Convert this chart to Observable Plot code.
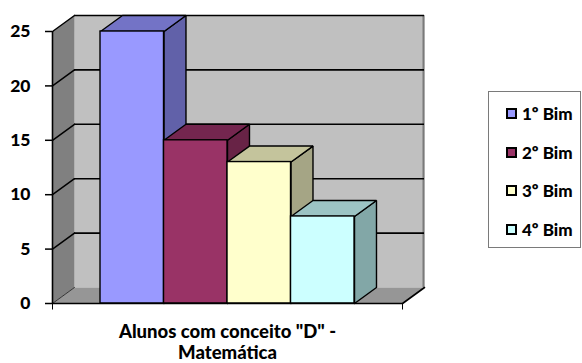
<!DOCTYPE html>
<html>
<head>
<meta charset="utf-8">
<script src="https://cdn.jsdelivr.net/npm/d3@7"></script>
<script src="https://cdn.jsdelivr.net/npm/@observablehq/plot@0.6"></script>
<style>
  html, body { margin: 0; padding: 0; background: #fff; }
  #chart { position: relative; width: 582px; height: 363px; font-family: Lato, "Open Sans", sans-serif; }
  #chart svg { position: absolute; left: 0; top: 0; }
  .legend { position: absolute; left: 488px; top: 91px; width: 93px; height: 157px;
            box-sizing: border-box; border: 1px solid #7a7a7a; background: #fff; }
  .legend .item { position: absolute; left: 17px; height: 20px; display: flex; align-items: center;
                  font-weight: 900; font-size: 17px; color: #000; white-space: nowrap; }
  .legend .sw { width: 7px; height: 7px; border: 2px solid #000; margin-right: 5px; }
</style>
</head>
<body>
<div id="chart"></div>
<script>
// Students with grade "D" in Mathematics, by bimester
const series = ["1º Bim", "2º Bim", "3º Bim", "4º Bim"];
const values = [25, 15, 13, 8];
const frontColors = ["#9999ff", "#993366", "#ffffcc", "#ccffff"];
const topColors = ["#7373c6", "#74264f", "#c4c49c", "#9cc4c4"];
const sideColors = ["#6161a9", "#682346", "#a5a585", "#82a7a7"];
const yTicks = [0, 5, 10, 15, 20, 25];
const categoryLabel = 'Alunos com conceito "D" -\nMatemática';

// 3D box geometry in data units: bars occupy slots [i, i+1]
const pad = 0.756;                 // gap between floor edge and the bars
const xMin = -pad, xMax = series.length + pad;
const yMax = d3.max(yTicks);
const DX = 0.346, DY = 1.47;       // depth offset of the back plane

const poly = (pts) => [...pts, pts[0]].map(([x, y]) => ({x, y}));
const face = (pts, fill, stroke = "#000", strokeWidth = 1.4) =>
  Plot.line(poly(pts), {x: "x", y: "y", fill, stroke, strokeWidth, strokeLinejoin: "miter"});

const marks = [];

// walls and floor
marks.push(face([[xMin + DX, DY], [xMax + DX, DY], [xMax + DX, yMax + DY], [xMin + DX, yMax + DY]], "#c0c0c0", "none"));
marks.push(face([[xMin, 0], [xMin + DX, DY], [xMin + DX, yMax + DY], [xMin, yMax]], "#808080", "none"));
marks.push(face([[xMin, 0], [xMax, 0], [xMax + DX, DY], [xMin + DX, DY]], "#969696", "none"));
// shaded right edge of the back wall
marks.push(Plot.ruleX([xMax + DX], {y1: DY, y2: yMax + DY, stroke: "#7a7a7a", strokeWidth: 2, dx: -1}));

// gridlines on the back wall and the left wall
const grid = yTicks.filter(t => t > 0);
marks.push(Plot.ruleY(grid, {y: t => t + DY, x1: xMin + DX, x2: xMax + DX, stroke: "#000", strokeWidth: 1.6}));
for (const t of yTicks) {
  marks.push(Plot.line([{x: xMin, y: t}, {x: xMin + DX, y: t + DY}], {x: "x", y: "y", stroke: t ? "#000" : "#333", strokeWidth: t ? 1.5 : 1}));
}

// bars: sides, then tops, then fronts
values.forEach((v, i) => {
  const x1 = i + 1;
  marks.push(face([[x1, 0], [x1 + DX, DY], [x1 + DX, v + DY], [x1, v]], sideColors[i]));
});
values.forEach((v, i) => {
  const x0 = i, x1 = i + 1;
  marks.push(face([[x0, v], [x1, v], [x1 + DX, v + DY], [x0 + DX, v + DY]], topColors[i]));
});
const bars = series.map((s, i) => ({s, i, v: values[i], fill: frontColors[i]}));
marks.push(Plot.rect(bars, {x1: d => d.i, x2: d => d.i + 1, y1: 0, y2: "v", fill: "fill", stroke: "#000", strokeWidth: 1.4}));

// floor front edge, right edge and axis lines
marks.push(Plot.ruleY([0], {x1: xMin, x2: xMax, stroke: "#000", strokeWidth: 1.6}));
marks.push(Plot.line([{x: xMax, y: 0}, {x: xMax + DX, y: DY}], {x: "x", y: "y", stroke: "#000", strokeWidth: 1.6}));
marks.push(Plot.ruleX([xMin], {y1: 0, y2: yMax, stroke: "#000", strokeWidth: 1.6}));
marks.push(Plot.ruleX([xMin, xMax], {y1: 0, y2: -0.6, stroke: "#000", strokeWidth: 1}));
marks.push(Plot.axisY({ticks: yTicks, tickSize: 7, tickPadding: 15, fontSize: 17.5, fontWeight: 900,
  stroke: "#000", strokeWidth: 1.5, label: null, fill: "#000"}));

// category label
marks.push(Plot.text([categoryLabel], {x: (xMin + xMax) / 2, y: 0, dy: 20, lineAnchor: "top",
  fontSize: 18.5, fontWeight: 900, lineHeight: 1.12, fill: "#000"}));

const chart = Plot.plot({
  width: 582, height: 363,
  marginLeft: 52, marginRight: 158, marginTop: 15, marginBottom: 60,
  x: {domain: [xMin, xMax + DX], axis: null},
  y: {domain: [0, yMax + DY], axis: null},
  color: {type: "identity"},
  style: {fontFamily: "Lato, 'Open Sans', sans-serif", color: "#000", background: "transparent", overflow: "visible"},
  marks
});

const root = document.getElementById("chart");
root.appendChild(chart);

// legend
const legend = document.createElement("div");
legend.className = "legend";
const itemCenters = [21, 60, 98, 137];
series.forEach((s, i) => {
  const item = document.createElement("div");
  item.className = "item";
  item.style.top = (itemCenters[i] - 10) + "px";
  const sw = document.createElement("span");
  sw.className = "sw";
  sw.style.background = frontColors[i];
  item.appendChild(sw);
  item.appendChild(document.createTextNode(s));
  legend.appendChild(item);
});
root.appendChild(legend);
</script>
</body>
</html>
